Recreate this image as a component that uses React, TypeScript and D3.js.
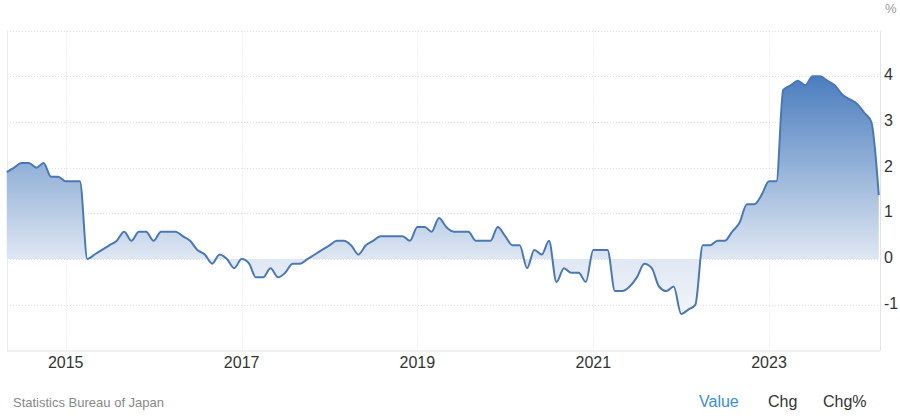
import React from "react";
import * as d3 from "d3";

const startYear = 2014;
const startMonth = 4; // May (0-based)
const values: number[] = [
  1.9, 2.0, 2.1, 2.1, 2.0, 2.1, 1.8, 1.8,
  1.7, 1.7, 1.7, 0.0, 0.1, 0.2, 0.3, 0.4, 0.6, 0.4, 0.6, 0.6, 0.4, 0.6, 0.6, 0.6,
  0.5, 0.4, 0.2, 0.1, -0.1, 0.1, 0.0, -0.2, 0.0, -0.1, -0.4, -0.4,
  -0.2, -0.4, -0.3, -0.1, -0.1, 0.0, 0.1, 0.2, 0.3, 0.4, 0.4, 0.3,
  0.1, 0.3, 0.4, 0.5, 0.5, 0.5, 0.5, 0.4, 0.7, 0.7, 0.6, 0.9,
  0.7, 0.6, 0.6, 0.6, 0.4, 0.4, 0.4, 0.7, 0.5, 0.3, 0.3, -0.2,
  0.2, 0.1, 0.4, -0.5, -0.2, -0.3, -0.3, -0.5, 0.2, 0.2, 0.2, -0.7,
  -0.7, -0.6, -0.4, -0.1, -0.2, -0.6, -0.7, -0.6, -1.2, -1.1, -1.0, 0.3,
  0.3, 0.4, 0.4, 0.6, 0.8, 1.2, 1.2, 1.4, 1.7, 1.7, 3.7, 3.8,
  3.9, 3.8, 4.0, 4.0, 3.9, 3.8, 3.6, 3.5, 3.4, 3.2, 3.0, 1.4,
];
const yTicks = [-1, 0, 1, 2, 3, 4];
const yGrid = [-1, 0, 1, 2, 3, 4, 5];
const xTickYears = [2015, 2017, 2019, 2021, 2023];
const legendItems = ["Value", "Chg", "Chg%"];
const sourceText = "Statistics Bureau of Japan";

type Pt = { date: Date; v: number };
const data: Pt[] = values.map((v, i) => ({
  date: new Date(startYear, startMonth + i, 1),
  v,
}));

export default function App() {
  const W = 900;
  const H = 419;
  const plotLeft = 7;
  const plotRight = 880;
  const plotTop = 30.5;
  const plotBottom = 350.5;

  const x = d3
    .scaleTime()
    .domain([new Date(2015, 0, 1), new Date(2023, 0, 1)])
    .range([65.7, 769]);
  const y = d3.scaleLinear().domain([-2, 5]).range([plotBottom, plotTop]);

  const line = d3
    .line<Pt>()
    .x((d) => x(d.date))
    .y((d) => y(d.v))
    .curve(d3.curveMonotoneX);
  const area = d3
    .area<Pt>()
    .x((d) => x(d.date))
    .y0(y(0))
    .y1((d) => y(d.v))
    .curve(d3.curveMonotoneX);

  const font = "'Liberation Sans', Arial, sans-serif";

  return (
    <div style={{ position: "absolute", left: 0, top: 0, width: W, height: H, background: "#fff" }}>
      <svg width={W} height={H} style={{ display: "block" }}>
        <defs>
          <linearGradient id="fillGrad" gradientUnits="userSpaceOnUse" x1="0" x2="0" y1={y(4)} y2={y(-2)}>
            <stop offset="0" stopColor="#4a7dbe" />
            <stop offset={(y(0) - y(4)) / (y(-2) - y(4))} stopColor="#dfe7f3" />
            <stop offset="1" stopColor="#ffffff" />
          </linearGradient>
        </defs>
        {yGrid.map((t) => (
          <line
            key={"hg" + t}
            x1={plotLeft}
            x2={plotRight}
            y1={Math.round(y(t)) + 0.5}
            y2={Math.round(y(t)) + 0.5}
            stroke="#dedede"
            strokeDasharray="1 2"
          />
        ))}
        {xTickYears.map((yr) => {
          const px = Math.round(x(new Date(yr, 0, 1))) + 0.5;
          return (
            <line key={"vg" + yr} x1={px} x2={px} y1={plotTop} y2={plotBottom} stroke="#dedede" strokeDasharray="1 2" />
          );
        })}
        <line x1={plotLeft + 0.5} x2={plotLeft + 0.5} y1={plotTop} y2={plotBottom} stroke="#ececec" />
        <line x1={plotRight + 0.5} x2={plotRight + 0.5} y1={plotTop} y2={plotBottom} stroke="#e3e3e3" />
        <line x1={plotLeft} x2={plotRight} y1={plotBottom + 0.5} y2={plotBottom + 0.5} stroke="#e3e3e3" />

        <path d={area(data) || ""} fill="url(#fillGrad)" />
        <path d={line(data) || ""} fill="none" stroke="#4a78b4" strokeWidth={2} strokeLinejoin="round" />

        {yTicks.map((t) => (
          <text key={"yl" + t} x={884} y={y(t) + 4} fontFamily={font} fontSize={16} fill="#333">
            {t}
          </text>
        ))}
        <text x={885} y={13} fontFamily={font} fontSize={13} fill="#999">
          %
        </text>
        {xTickYears.map((yr) => (
          <text
            key={"xl" + yr}
            x={x(new Date(yr, 0, 1))}
            y={367.5}
            textAnchor="middle"
            fontFamily={font}
            fontSize={16}
            fill="#333"
          >
            {yr}
          </text>
        ))}
        <text x={13} y={406.5} fontFamily={font} fontSize={13} fill="#888">
          {sourceText}
        </text>
        {legendItems.map((s, i) => (
          <text
            key={s}
            x={[699, 768, 823][i]}
            y={407}
            fontFamily={font}
            fontSize={16}
            fill={i === 0 ? "#3a8fd6" : "#333"}
          >
            {s}
          </text>
        ))}
      </svg>
    </div>
  );
}
